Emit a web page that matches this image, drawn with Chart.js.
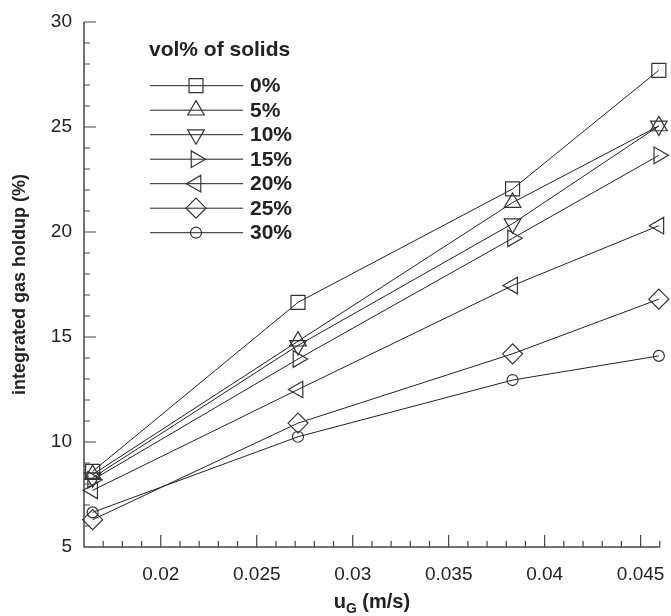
<!DOCTYPE html>
<html><head><meta charset="utf-8">
<script src="https://cdn.jsdelivr.net/npm/chart.js@4"></script>
<style>html,body{margin:0;padding:0;background:#fff}#wrap{width:671px;height:616px}</style>
</head><body><div id="wrap"><canvas id="c" width="671" height="616"></canvas></div>
<script>
// ---- data ----
const xValues = [0.01645, 0.02715, 0.03833, 0.04595];
const seriesNames = ['0%', '5%', '10%', '15%', '20%', '25%', '30%'];
const solids0  = [8.6, 16.65, 22.05, 27.7];
const solids5  = [8.45, 14.8, 21.4, 25.05];
const solids10 = [8.3, 14.6, 20.4, 25.05];
const solids15 = [8.2, 13.95, 19.7, 23.65];
const solids20 = [7.7, 12.5, 17.45, 20.3];
const solids25 = [6.3, 10.9, 14.2, 16.8];
const solids30 = [6.65, 10.25, 12.95, 14.1];
const xTickValues = [0.02, 0.025, 0.03, 0.035, 0.04, 0.045];
const yTickValues = [5, 10, 15, 20, 25, 30];
const legendTitle = 'vol% of solids';
const yTitle = 'integrated gas holdup (%)';

const allSeries = [solids0, solids5, solids10, solids15, solids20, solids25, solids30];
const markers = [
  {style:'rect', rot:0, r:9.9},
  {style:'triangle', rot:0, r:9.6},
  {style:'triangle', rot:180, r:9.6},
  {style:'triangle', rot:90, r:9.6},
  {style:'triangle', rot:270, r:9.6},
  {style:'rectRot', rot:0, r:10},
  {style:'circle', rot:0, r:5.5}
];
const FONT = '"Liberation Sans", Arial, Helvetica, sans-serif';
const LINE = '#222';
const MARK = '#333';

const datasets = allSeries.map((vals, i) => ({
  label: seriesNames[i],
  data: vals.map((v, j) => ({x: xValues[j], y: v})),
  borderColor: LINE,
  borderWidth: 1,
  pointStyle: markers[i].style,
  pointRotation: markers[i].rot,
  pointRadius: markers[i].r,
  pointBorderWidth: 1.2,
  pointBorderColor: MARK,
  pointBackgroundColor: 'rgba(0,0,0,0)',
  tension: 0,
  fill: false,
  clip: false
}));

const decor = {
  id: 'decor',
  afterDraw(chart) {
    const ctx = chart.ctx;
    const xs = chart.scales.x, ys = chart.scales.y;
    const L = xs.left, R = xs.right, T = ys.top, B = ys.bottom;
    ctx.save();
    // axes
    ctx.strokeStyle = '#444';
    ctx.lineWidth = 1.5;
    ctx.beginPath();
    ctx.moveTo(L, T); ctx.lineTo(L, B); ctx.lineTo(R, B);
    ctx.stroke();
    // ticks (inward)
    ctx.lineWidth = 1.2;
    ctx.beginPath();
    for (let k = 17; k <= 46; k++) {
      const v = k / 1000;
      const px = xs.getPixelForValue(v);
      const major = xTickValues.some(t => Math.abs(t - v) < 1e-9);
      ctx.moveTo(px, B); ctx.lineTo(px, B - (major ? 12 : 6));
    }
    for (let v = 6; v <= 30; v++) {
      const py = ys.getPixelForValue(v);
      const major = yTickValues.includes(v);
      ctx.moveTo(L, py); ctx.lineTo(L + (major ? 12 : 6), py);
    }
    ctx.stroke();
    // axis titles
    ctx.fillStyle = '#222';
    ctx.font = 'bold 18px ' + FONT;
    ctx.textBaseline = 'middle';
    ctx.textAlign = 'center';
    ctx.save();
    ctx.translate(20, (T + B) / 2);
    ctx.rotate(-Math.PI / 2);
    ctx.fillText(yTitle, 0, 0);
    ctx.restore();
    // x title with subscript
    ctx.textBaseline = 'alphabetic';
    ctx.textAlign = 'left';
    const f1 = 'bold 20px ' + FONT, f2 = 'bold 14px ' + FONT;
    ctx.font = f1; const w1 = ctx.measureText('u').width;
    ctx.font = f2; const w2 = ctx.measureText('G').width;
    ctx.font = f1; const w3 = ctx.measureText(' (m/s)').width;
    let x0 = (L + R) / 2 - (w1 + w2 + w3) / 2;
    const base = 608;
    ctx.font = f1; ctx.fillText('u', x0, base);
    ctx.font = f2; ctx.fillText('G', x0 + w1, base + 5);
    ctx.font = f1; ctx.fillText(' (m/s)', x0 + w1 + w2, base);
    // legend
    ctx.font = 'bold 21px ' + FONT;
    ctx.textBaseline = 'middle';
    ctx.fillText(legendTitle, 149, 50);
    const rowY0 = 85.7, rowDy = 24.5;
    seriesNames.forEach((name, i) => {
      const y = rowY0 + i * rowDy;
      ctx.strokeStyle = LINE; ctx.lineWidth = 1;
      ctx.beginPath(); ctx.moveTo(150, y); ctx.lineTo(243, y); ctx.stroke();
      ctx.strokeStyle = MARK; ctx.lineWidth = 1.2;
      ctx.fillStyle = 'rgba(0,0,0,0)';
      Chart.helpers.drawPoint(ctx, {pointStyle: markers[i].style, rotation: markers[i].rot, radius: markers[i].r, borderWidth: 1.2}, 196, y);
      ctx.fillStyle = '#222';
      ctx.font = 'bold 21px ' + FONT;
      ctx.fillText(name, 250, y + 1);
    });
    ctx.restore();
  }
};

new Chart(document.getElementById('c'), {
  type: 'line',
  data: {datasets},
  options: {
    responsive: false,
    animation: false,
    devicePixelRatio: 1,
    layout: {padding: {top: 22, right: 9, left: 0, bottom: 0}},
    plugins: {legend: {display: false}, tooltip: {enabled: false}},
    scales: {
      x: {
        type: 'linear', min: 0.016, max: 0.046,
        afterBuildTicks: s => { s.ticks = xTickValues.map(v => ({value: v})); },
        afterFit: s => { s.height = 69; s.paddingLeft = 0; s.paddingRight = 0; },
        grid: {display: false, drawTicks: false}, border: {display: false},
        ticks: {color: '#222', font: {size: 19, family: FONT}, padding: 16, maxRotation: 0, autoSkip: false,
          callback: v => String(+Number(v).toFixed(3))}
      },
      y: {
        type: 'linear', min: 5, max: 30,
        afterBuildTicks: s => { s.ticks = yTickValues.map(v => ({value: v})); },
        afterFit: s => { s.width = 84; s.paddingTop = 0; s.paddingBottom = 0; },
        grid: {display: false, drawTicks: false}, border: {display: false},
        ticks: {color: '#222', font: {size: 19, family: FONT}, padding: 12, autoSkip: false}
      }
    }
  },
  plugins: [decor]
});
</script>
</body></html>
